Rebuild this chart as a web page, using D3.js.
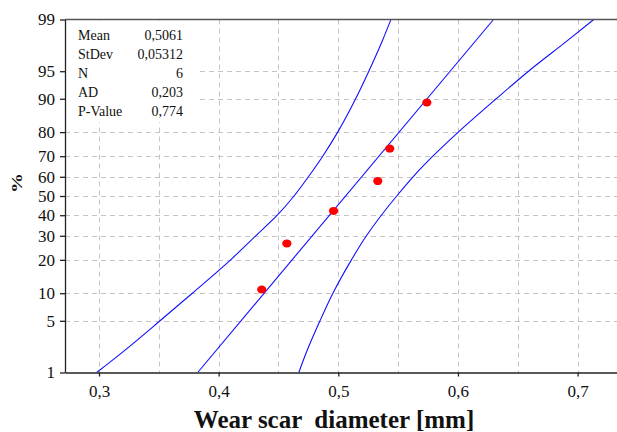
<!DOCTYPE html>
<html>
<head>
<meta charset="utf-8">
<script src="https://cdn.jsdelivr.net/npm/d3@7"></script>
<style>
  html, body { margin: 0; padding: 0; background: #fff; }
  svg { display: block; }
  svg text { font-family: "Liberation Serif", Tinos, "Times New Roman", Times, "DejaVu Serif", serif; }
</style>
</head>
<body>
<svg id="chart" width="617" height="432"></svg>
<script>
// ---------------- data ----------------
const pTicks = [1, 5, 10, 20, 30, 40, 50, 60, 70, 80, 90, 95, 99];
const pGrid = [5, 10, 20, 30, 40, 50, 60, 70, 80, 90, 95];
const xTicks = [0.3, 0.4, 0.5, 0.6, 0.7];
const xGrid = [0.3, 0.35, 0.4, 0.45, 0.5, 0.55, 0.6, 0.65, 0.7];

// observed wear scar diameters [mm] and their plotted percentages
const obsValues = [0.436, 0.457, 0.496, 0.533, 0.543, 0.574];
const obsPercents = [10.9, 26.6, 42.2, 57.8, 73.4, 89.1];

// fitted line end points
const fitPercents = [1, 99];
const fitValues = [0.3825, 0.6297];

// confidence bands at the percent grid levels
const bandPercents = [1, 2, 5, 10, 20, 30, 40, 50, 60, 70, 80, 90, 95, 98, 99];
const lowerValues = [0.298, 0.320, 0.351, 0.378, 0.410, 0.431, 0.449, 0.463, 0.475, 0.487, 0.4995, 0.5145, 0.5255, 0.537, 0.544];
const upperValues = [0.467, 0.4735, 0.4847, 0.4955, 0.511, 0.5235, 0.536, 0.5488, 0.5625, 0.579, 0.6003, 0.632, 0.659, 0.692, 0.7135];

const statLabels = ["Mean", "StDev", "N", "AD", "P-Value"];
const statValues = ["0,5061", "0,05312", "6", "0,203", "0,774"];

const xTitle = "Wear scar  diameter [mm]";
const yTitle = "%";

// ---------------- helpers ----------------
function probit(p) {
  const a = [-3.969683028665376e+01, 2.209460984245205e+02, -2.759285104469687e+02, 1.383577518672690e+02, -3.066479806614716e+01, 2.506628277459239e+00];
  const b = [-5.447609879822406e+01, 1.615858368580409e+02, -1.556989798598866e+02, 6.680131188771972e+01, -1.328068155288572e+01];
  const c = [-7.784894002430293e-03, -3.223964580411365e-01, -2.400758276161838e+00, -2.549732539343734e+00, 4.374664141464968e+00, 2.938163982698783e+00];
  const d = [7.784695709041462e-03, 3.224671290700398e-01, 2.445134137142996e+00, 3.754408661907416e+00];
  const pl = 0.02425, ph = 1 - pl;
  let q, r;
  if (p < pl) {
    q = Math.sqrt(-2 * Math.log(p));
    return (((((c[0]*q+c[1])*q+c[2])*q+c[3])*q+c[4])*q+c[5]) / ((((d[0]*q+d[1])*q+d[2])*q+d[3])*q+1);
  } else if (p <= ph) {
    q = p - 0.5; r = q*q;
    return (((((a[0]*r+a[1])*r+a[2])*r+a[3])*r+a[4])*r+a[5])*q / (((((b[0]*r+b[1])*r+b[2])*r+b[3])*r+b[4])*r+1);
  } else {
    q = Math.sqrt(-2 * Math.log(1 - p));
    return -(((((c[0]*q+c[1])*q+c[2])*q+c[3])*q+c[4])*q+c[5]) / ((((d[0]*q+d[1])*q+d[2])*q+d[3])*q+1);
  }
}
const pz = p => probit(p / 100);
const fmt = v => String(v).replace(".", ",");
const SERIF = "'Liberation Serif', Tinos, 'Times New Roman', Times, 'DejaVu Serif', serif";

// ---------------- layout ----------------
const plotL = 65, plotR = 617, plotT = 19.5, plotB = 372.5;
const svg = d3.select("#chart");

const x = d3.scaleLinear().domain([0.3, 0.7]).range([99, 577.6]);
const xAxisScale = d3.scaleLinear().domain([x.invert(plotL), x.invert(plotR)]).range([plotL, plotR]);
const zScale = d3.scaleLinear().domain([pz(1), pz(99)]).range([plotB, plotT]);
const y = p => zScale(pz(p));

svg.append("defs").append("clipPath").attr("id", "plotclip")
  .append("rect").attr("x", plotL).attr("y", plotT).attr("width", plotR - plotL).attr("height", plotB - plotT);

// grid
const grid = svg.append("g").attr("stroke", "#c4c4c4").attr("stroke-width", 1).attr("stroke-dasharray", "5,4");
grid.selectAll("line.h").data(pGrid).join("line").attr("class", "h")
  .attr("x1", plotL).attr("x2", plotR).attr("y1", d => Math.round(y(d)) + 0.5).attr("y2", d => Math.round(y(d)) + 0.5);
grid.selectAll("line.v").data(xGrid).join("line").attr("class", "v")
  .attr("x1", d => Math.round(x(d)) + 0.5).attr("x2", d => Math.round(x(d)) + 0.5).attr("y1", plotT).attr("y2", plotB);

// stats box (white background hides grid)
svg.append("rect").attr("x", plotL + 1).attr("y", plotT + 1).attr("width", 131).attr("height", 102).attr("fill", "#fff");
const stats = svg.append("g").attr("font-size", 14).attr("fill", "#111").attr("font-family", SERIF);
stats.selectAll("text.l").data(statLabels).join("text").attr("class", "l")
  .attr("x", 78).attr("y", (d, i) => 39.5 + i * 19.1).text(d => d);
stats.selectAll("text.v").data(statValues).join("text").attr("class", "v")
  .attr("x", 183).attr("text-anchor", "end").attr("y", (d, i) => 39.5 + i * 19.1).text(d => d);

// curves
const plot = svg.append("g").attr("clip-path", "url(#plotclip)");
const line = d3.line().x(d => x(d[1])).y(d => y(d[0])).curve(d3.curveMonotoneY);
const lineStyle = sel => sel.attr("fill", "none").attr("stroke", "#1010ff").attr("stroke-width", 1.1);
plot.append("path").datum(d3.zip(bandPercents, lowerValues)).attr("d", line).call(lineStyle);
plot.append("path").datum(d3.zip(bandPercents, upperValues)).attr("d", line).call(lineStyle);
plot.append("path").datum(d3.zip(fitPercents, fitValues)).attr("d", d3.line().x(d => x(d[1])).y(d => y(d[0]))).call(lineStyle);

// points
plot.selectAll("ellipse").data(d3.zip(obsPercents, obsValues)).join("ellipse")
  .attr("cx", d => x(d[1])).attr("cy", d => y(d[0])).attr("rx", 4.6).attr("ry", 4).attr("fill", "#ff0000");

// top border
svg.append("line").attr("x1", plotL).attr("x2", plotR).attr("y1", plotT).attr("y2", plotT)
  .attr("stroke", "#555").attr("stroke-width", 1.3);

// axes
const yAxis = d3.axisLeft(zScale).tickValues(pTicks.map(pz)).tickFormat((d, i) => pTicks[i]).tickSize(5).tickSizeOuter(0).tickPadding(5);
const gy = svg.append("g").attr("transform", `translate(${plotL},0)`).call(yAxis).attr("font-family", SERIF);
gy.selectAll("text").attr("font-size", 17).attr("fill", "#111");
gy.selectAll("line, path").attr("stroke", "#222").attr("stroke-width", 1.3);

const xAxis = d3.axisBottom(xAxisScale).tickValues(xTicks).tickFormat(fmt).tickSize(4).tickSizeOuter(0).tickPadding(8);
const gx = svg.append("g").attr("transform", `translate(0,${plotB})`).call(xAxis).attr("font-family", SERIF);
gx.selectAll("text").attr("font-size", 17).attr("fill", "#111");
gx.selectAll("line, path").attr("stroke", "#222").attr("stroke-width", 1.3);

// titles
svg.append("text").attr("x", 334).attr("y", 428).attr("text-anchor", "middle").attr("font-family", SERIF)
  .attr("font-size", 25).attr("font-weight", "bold").attr("fill", "#111")
  .style("white-space", "pre").text(xTitle);
svg.append("text").attr("transform", "translate(22,183) rotate(-90)").attr("text-anchor", "middle").attr("font-family", SERIF)
  .attr("font-size", 15).attr("font-weight", "bold").attr("fill", "#111")
  .attr("textLength", 20).attr("lengthAdjust", "spacingAndGlyphs").text(yTitle);
</script>
</body>
</html>
